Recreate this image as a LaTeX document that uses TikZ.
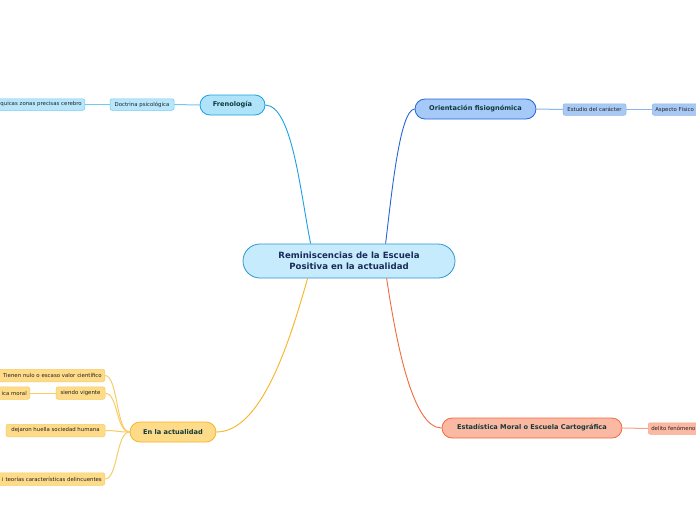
\documentclass[tikz,border=0pt]{standalone}
\usepackage{fontspec}
\setmainfont{DejaVu Sans}
\definecolor{cenF}{HTML}{C5EBFC}\definecolor{cenD}{HTML}{2E95D3}\definecolor{cenT}{HTML}{1B2A5A}
\definecolor{freF}{HTML}{AEE3FA}\definecolor{freD}{HTML}{1BA1E2}\definecolor{freS}{HTML}{B8E7FB}\definecolor{freSD}{HTML}{72C8F0}
\definecolor{oriF}{HTML}{A5C9F8}\definecolor{oriD}{HTML}{2566D6}\definecolor{oriS}{HTML}{A9C9F5}\definecolor{oriSD}{HTML}{8DB4EC}
\definecolor{estF}{HTML}{FBB8A2}\definecolor{estD}{HTML}{F26A3F}\definecolor{estSD}{HTML}{F7A588}
\definecolor{actF}{HTML}{FDDB89}\definecolor{actD}{HTML}{F7B523}\definecolor{actSD}{HTML}{F9CC66}
\definecolor{txtM}{HTML}{113A3A}\definecolor{txtS}{HTML}{222222}
\begin{document}
\begin{tikzpicture}[x=1pt,y=-1pt,
  mainbox/.style={draw, line width=0.8pt, rounded corners=10pt, minimum height=20pt, inner sep=0pt, font=\fontsize{6.6}{8}\selectfont\bfseries, text=txtM},
  smallbox/.style={draw, line width=0.5pt, rounded corners=2pt, minimum height=11.5pt, inner sep=0pt, inner xsep=3pt, font=\fontsize{5.4}{6.5}\selectfont, text=txtS},
  link/.style={line width=0.9pt},
  sublink/.style={line width=1pt}]
\useasboundingbox (0,0) rectangle (696,520);
\clip (0,0) rectangle (696,520);
\fill[white] (0,0) rectangle (696,520);
% central
\node[draw=cenD, fill=cenF, line width=0.8pt, rounded corners=17pt, minimum width=212pt, minimum height=34pt, inner sep=0pt, align=center, text=cenT, font=\fontsize{8.6}{11}\selectfont\bfseries] (c) at (349,261) {Reminiscencias de la Escuela\\Positiva en la actualidad};
% Frenologia
\node[mainbox, draw=freD, fill=freF, minimum width=65pt] (fre) at (232.5,105) {Frenología};
\node[smallbox, draw=freSD, fill=freS, minimum width=64pt] (doc) at (142,104.5) {Doctrina psicológica};
\node[smallbox, draw=freSD, fill=freS, anchor=east, text width=96pt, align=right] (psi) at (85,104.5) {quicas zonas precisas cerebro};
% Orientacion
\node[mainbox, draw=oriD, fill=oriF, minimum width=121pt] (ori) at (475.5,109) {Orientación fisiognómica};
\node[smallbox, draw=oriSD, fill=oriS, minimum width=63pt] (estu) at (594.5,109.5) {Estudio del carácter};
\node[smallbox, draw=oriSD, fill=oriS, anchor=west, text width=60pt, align=left] (asp) at (652,109.5) {Aspecto Físico};
% Estadistica
\node[mainbox, draw=estD, fill=estF, minimum width=180pt] (est) at (532,428) {Estadística Moral o Escuela Cartográfica};
\node[smallbox, draw=estSD, fill=estF, anchor=west, text width=60pt, align=left] (del) at (648,428.5) {delito fenómeno};
% Actualidad
\node[mainbox, draw=actD, fill=actF, minimum width=86pt] (act) at (173,432) {En la actualidad};
\node[smallbox, draw=actSD, fill=actF, anchor=east, text width=106pt, align=right, minimum height=12.5pt] (tie) at (105,375.5) {Tienen nulo o escaso valor científico};
\node[smallbox, draw=actSD, fill=actF, minimum width=49pt, minimum height=12.5pt] (sie) at (80.5,393) {siendo vigente};
\node[smallbox, draw=actSD, fill=actF, anchor=east, text width=40pt, align=right, minimum height=12.5pt] (ica) at (30,393) {ica moral};
\node[smallbox, draw=actSD, fill=actF, minimum width=99pt, minimum height=12.5pt] (dej) at (55.5,430.5) {dejaron huella sociedad humana};
\node[smallbox, draw=actSD, fill=actF, anchor=east, text width=110pt, align=right, minimum height=12.5pt] (teo) at (105,479) {i teorías características delincuentes};
% main connectors
\draw[link, freD] (c.north west) ++(68,0) coordinate (c1) .. controls (300,190) and (292,106) .. (fre.east);
\draw[link, oriD] (c.north west) ++(143,0) coordinate (c2) .. controls (392,190) and (400,110) .. (ori.west);
\draw[link, actD] (c.south west) ++(65,0) coordinate (c3) .. controls (290,340) and (262,432) .. (act.east);
\draw[link, estD] (c.south west) ++(144,0) coordinate (c4) .. controls (396,340) and (412,428) .. (est.west);
% sub connectors
\draw[sublink, freSD] (fre.west) -- (doc.east);
\draw[sublink, freSD] (doc.west) -- (psi.east);
\draw[sublink, oriSD] (ori.east) -- (estu.west);
\draw[sublink, oriSD] (estu.east) -- (asp.west);
\draw[sublink, estSD] (est.east) -- (del.west);
\draw[sublink, actSD] (act.west) .. controls (116,432) and (118,375.5) .. (tie.east);
\draw[sublink, actSD] (act.west) .. controls (116,432) and (118,393) .. (sie.east);
\draw[sublink, actSD] (act.west) .. controls (116,432) and (118,430.5) .. (dej.east);
\draw[sublink, actSD] (act.west) .. controls (116,432) and (118,479) .. (teo.east);
\draw[sublink, actSD] (sie.west) -- (ica.east);
\end{tikzpicture}
\end{document}
